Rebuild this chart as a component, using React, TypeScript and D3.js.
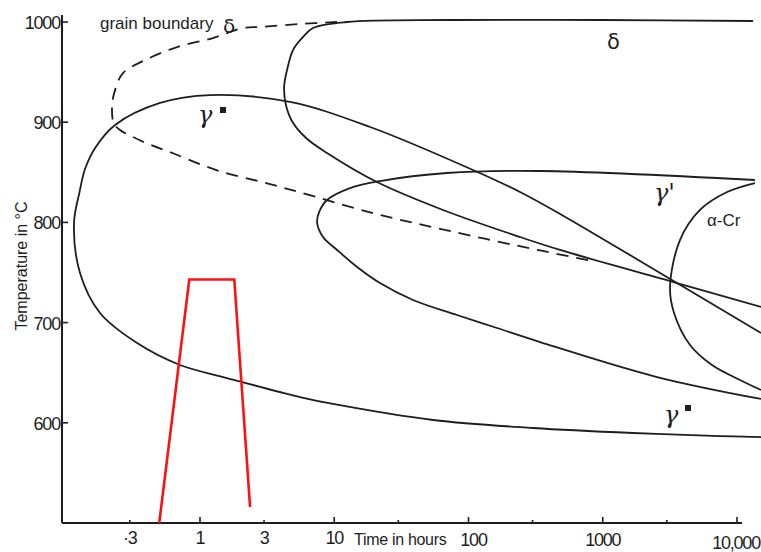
import React from 'react';
import * as d3 from 'd3';

type Pt = [number, number]; // [hours, °C]

// γ'' C-curve (upper branch from right, around nose, lower branch to right)
const gammaDoublePrime: Pt[] = [
  [15100, 689.6], [3573, 739.5], [481, 808.4], [242, 830.3], [108, 852.3], [18.5, 895.2],
  [4.68, 920.2], [1.19, 927.1], [0.504, 919.2], [0.233, 897.2], [0.165, 874], [0.139, 853],
  [0.1265, 830], [0.1152, 799.4], [0.1277, 749.5], [0.18, 709.6], [0.34, 679.6], [0.71, 657.7],
  [1.59, 644.7], [5.56, 625.7], [9.79, 618.8], [54.4, 602.8], [302, 594.8], [1680, 589.8],
  [7470, 586.8], [15100, 585.8],
];

// δ C-curve
const delta: Pt[] = [
  [13150, 1001], [953, 1002], [72.8, 1002], [12.4, 1000], [6.95, 994], [5.85, 985], [4.93, 972],
  [4.45, 952], [4.23, 935], [4.37, 917], [4.9, 900], [6.2, 884], [8.83, 869.3], [20.8, 840.3],
  [64.6, 812.4], [242, 785.4], [481, 772.5], [3573, 739.5], [15100, 715.6],
];

// γ' C-curve
const gammaPrime: Pt[] = [
  [13600, 842.3], [341, 851.3], [69.2, 849.3], [21.9, 841.3], [13.1, 834.3], [8.83, 822.4],
  [7.75, 811], [7.45, 800], [8.25, 785.4], [10.5, 772.5], [14.8, 755.5], [21.9, 739.5],
  [38.6, 722.6], [82.1, 707.6], [163, 694.6], [341, 680.6], [2537, 645.7], [15100, 623.8],
];

// α-Cr curve
const alphaCr: Pt[] = [
  [13600, 839.3], [8430, 830.3], [5300, 812.4], [3760, 782.4], [3170, 735.5], [3396, 709.6],
  [4467, 677.7], [6515, 657.7], [10520, 642.7], [15100, 632.7],
];

// grain boundary δ (dashed)
const grainBoundaryDelta: Pt[] = [
  [10.5, 1000], [5.56, 998], [2.8, 995], [2.09, 994], [1.25, 984], [0.674, 975], [0.389, 962],
  [0.267, 949], [0.233, 932], [0.221, 915], [0.233, 897], [0.357, 882], [0.629, 869], [1.34, 852],
  [3.16, 839], [5.56, 830], [18.5, 810], [69.2, 792], [341, 772], [804, 762],
];

// heat treatment path (red)
const heatTreatment: Pt[] = [
  [0.497, 500], [0.832, 743], [1.8, 743], [2.36, 516],
];

const xTickValues = [0.3, 1, 3, 10, 30, 100, 300, 1000, 3000, 10000];
const xMajorTicks = [1, 10, 100, 1000, 10000];
const xTickLabels: [number, string][] = [
  [0.3, '·3'], [1, '1'], [3, '3'], [10, '10'], [100, '100'], [1000, '1000'], [10000, '10,000'],
];
const yTickValues = [600, 700, 800, 900, 1000];
const yTickLabels = ['600', '700', '800', '900', '1000'];
const yAxisMin = 500;

const INK = '#1e1e1e';
const FONT = "'Liberation Sans', Arial, sans-serif";

export default function App() {
  const x = d3.scaleLog().domain([1, 10000]).range([200, 737]);
  const y = d3.scaleLinear().domain([500, 1000]).range([523, 22]);

  const smooth = d3
    .line<Pt>()
    .x((d) => x(d[0]))
    .y((d) => y(d[1]))
    .curve(d3.curveCatmullRom.alpha(0.5));
  const straight = d3
    .line<Pt>()
    .x((d) => x(d[0]))
    .y((d) => y(d[1]));

  const x0 = 62;
  const yBase = y(yAxisMin);

  return (
    <svg
      width={761}
      height={552}
      viewBox="0 0 761 552"
      style={{ position: 'absolute', left: 0, top: 0, background: '#fff' }}
    >
      <rect x={0} y={0} width={761} height={552} fill="#fff" />
      <defs>
        <clipPath id="plot">
          <rect x={x0} y={0} width={761 - x0} height={yBase} />
        </clipPath>
      </defs>

      {/* axes */}
      <line x1={x0} y1={15} x2={x0} y2={yBase} stroke={INK} strokeWidth={2} />
      <line x1={x0} y1={yBase} x2={742} y2={yBase} stroke={INK} strokeWidth={2} />

      {yTickValues.map((v, i) => (
        <g key={v}>
          <line x1={x0} x2={x0 + 6} y1={y(v)} y2={y(v)} stroke={INK} strokeWidth={1.6} />
          <text
            x={x0 - 2}
            y={y(v) + 7}
            textAnchor="end"
            fontFamily={FONT}
            fontSize={18}
            letterSpacing={-1.2}
            fill={INK}
          >
            {yTickLabels[i]}
          </text>
        </g>
      ))}
      <text
        transform={`translate(27, 266) rotate(-90)`}
        textAnchor="middle"
        fontFamily={FONT}
        fontSize={16}
        fill={INK}
      >
        Temperature in °C
      </text>

      {xTickValues.map((v) => (
        <line
          key={v}
          x1={x(v)}
          x2={x(v)}
          y1={yBase}
          y2={yBase - (xMajorTicks.includes(v) ? 6 : 3)}
          stroke={INK}
          strokeWidth={1.6}
        />
      ))}
      {xTickLabels.map(([v, s]) => (
        <text
          key={v}
          x={v === 10000 ? 760 : x(v) + (v === 100 ? 5 : 0)}
          y={v === 10000 ? 549 : v >= 100 ? 546 : 544}
          textAnchor={v === 10000 ? 'end' : 'middle'}
          fontFamily={FONT}
          fontSize={18}
          letterSpacing={-1.2}
          fill={INK}
        >
          {s}
        </text>
      ))}
      <text x={354} y={545} fontFamily={FONT} fontSize={16} fill={INK} letterSpacing={-0.3}>
        Time in hours
      </text>

      {/* curves */}
      <g clipPath="url(#plot)" fill="none" stroke={INK} strokeWidth={1.8}>
        <path d={smooth(gammaDoublePrime) ?? ''} />
        <path d={smooth(delta) ?? ''} />
        <path d={smooth(gammaPrime) ?? ''} />
        <path d={smooth(alphaCr) ?? ''} />
        <path d={smooth(grainBoundaryDelta) ?? ''} strokeDasharray="12 8" />
      </g>
      <path d={straight(heatTreatment) ?? ''} fill="none" stroke="#ff1010" strokeWidth={2.6} strokeLinejoin="miter" />

      {/* labels */}
      <text x={100} y={29} fontFamily={FONT} fontSize={17} fill={INK}>
        grain boundary
      </text>
      <text x={223} y={33} fontFamily="'DejaVu Sans', sans-serif" fontSize={20} fill={INK}>
        δ
      </text>
      <text x={607} y={49} fontFamily="'DejaVu Sans', sans-serif" fontSize={21} fill={INK}>
        δ
      </text>
      <text x={198} y={123} fontFamily="'DejaVu Serif', serif" fontStyle="italic" fontSize={24} fill={INK}>
        γ
      </text>
      <rect x={220} y={107} width={6} height={6} fill={INK} />
      <text x={654} y={201} fontFamily="'DejaVu Serif', serif" fontStyle="italic" fontSize={24} fill={INK}>
        γ'
      </text>
      <text x={707} y={226} fontFamily={FONT} fontSize={17} fill={INK}>
        α-Cr
      </text>
      <text x={664} y={423} fontFamily="'DejaVu Serif', serif" fontStyle="italic" fontSize={24} fill={INK}>
        γ
      </text>
      <rect x={685} y={405} width={6} height={6} fill={INK} />
    </svg>
  );
}
